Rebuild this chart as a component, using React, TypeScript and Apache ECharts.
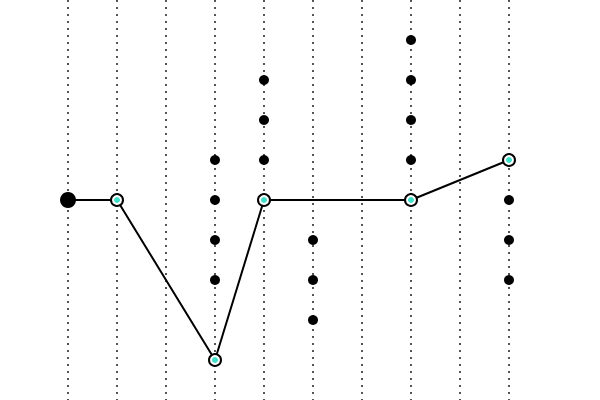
import { useEffect, useRef } from "react";
import * as echarts from "echarts";

// step index (x) and level (y) of the walked path
const pathX = [1, 2, 4, 5, 8, 10];
const pathY = [0, 0, -4, 0, 0, 1];

// other candidate levels per step
const dotColumns: [number, number[]][] = [
  [4, [1, 0, -1, -2]],
  [5, [3, 2, 1]],
  [6, [-1, -2, -3]],
  [8, [4, 3, 2, 1]],
  [10, [0, -1, -2]],
];

export default function App() {
  const containerRef = useRef<HTMLDivElement>(null);

  useEffect(() => {
    if (!containerRef.current) return;
    const chart = echarts.init(containerRef.current, null, { renderer: "svg" });

    const pathData = pathX.map((x, i) =>
      i === 0
        ? { value: [x, pathY[i]], symbolSize: 16, itemStyle: { color: "#000", borderWidth: 0 } }
        : { value: [x, pathY[i]] },
    );
    const innerData = pathX.slice(1).map((x, i) => [x, pathY[i + 1]]);
    const dotData = dotColumns.flatMap(([x, ys]) => ys.map((y) => [x, y]));

    chart.setOption({
      animation: false,
      grid: { left: 68, right: 91, top: 0, bottom: 0 },
      xAxis: {
        type: "value",
        min: 1,
        max: 10,
        interval: 1,
        axisLine: { show: false },
        axisTick: { show: false },
        axisLabel: { show: false },
        splitLine: {
          show: true,
          lineStyle: { color: "#555", width: 2, type: [2, 5] },
        },
      },
      yAxis: {
        type: "value",
        min: -5,
        max: 5,
        axisLine: { show: false },
        axisTick: { show: false },
        axisLabel: { show: false },
        splitLine: { show: false },
      },
      series: [
        {
          type: "scatter",
          data: dotData,
          symbolSize: 10,
          itemStyle: { color: "#000", opacity: 1 },
          z: 2,
        },
        {
          type: "line",
          data: pathData,
          symbol: "circle",
          symbolSize: 12,
          showAllSymbol: true,
          lineStyle: { color: "#000", width: 2 },
          itemStyle: { color: "#fff", borderColor: "#000", borderWidth: 2 },
          z: 3,
        },
        {
          type: "scatter",
          data: innerData,
          symbolSize: 6,
          itemStyle: { color: "#40E0C8", opacity: 1 },
          z: 4,
        },
      ],
    });

    return () => chart.dispose();
  }, []);

  return (
    <div
      ref={containerRef}
      style={{ position: "fixed", left: 0, top: 0, width: 600, height: 400 }}
    />
  );
}
